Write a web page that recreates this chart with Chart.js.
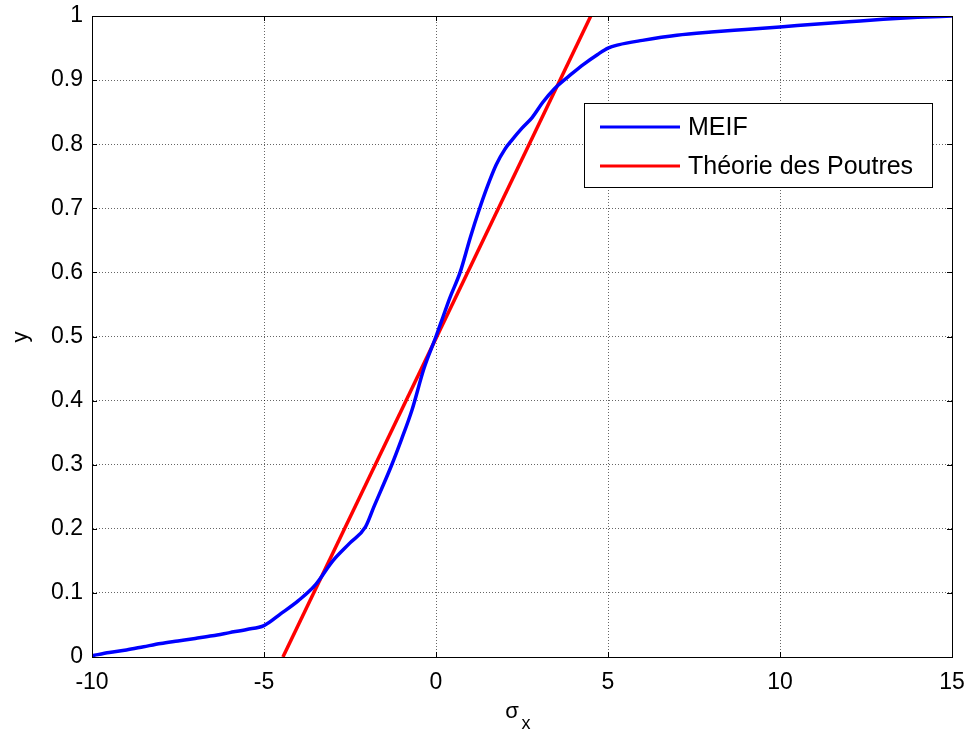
<!DOCTYPE html>
<html>
<head>
<meta charset="utf-8">
<script src="https://cdn.jsdelivr.net/npm/chart.js@4/dist/chart.umd.min.js"></script>
<style>
html,body{margin:0;padding:0;background:#fff;}
#wrap{width:968px;height:736px;position:relative;}
</style>
</head>
<body>
<div id="wrap"><canvas id="c" width="968" height="736"></canvas></div>
<script>
// ---- data ----
const meifX = [-10, -9.5, -9, -8.5, -8, -7.5, -7, -6.5, -6, -5.5, -5, -4.5, -4, -3.5, -3, -2.5, -2.05, -1.8, -1.6, -1.3, -1.0, -0.7, -0.35, 0, 0.2, 0.4, 0.7, 1.0, 1.25, 1.5, 1.75, 2.0, 2.2, 2.5, 2.8, 3.1, 3.45, 3.95, 4.3, 4.7, 5.0, 5.3, 6, 7, 8, 9, 10, 11, 12, 13, 14, 15];
const meifY = [0.002, 0.007, 0.011, 0.016, 0.021, 0.025, 0.029, 0.033, 0.038, 0.043, 0.049, 0.068, 0.088, 0.113, 0.15, 0.178, 0.203, 0.235, 0.26, 0.298, 0.34, 0.385, 0.45, 0.5, 0.53, 0.56, 0.6, 0.655, 0.697, 0.735, 0.768, 0.792, 0.806, 0.825, 0.842, 0.865, 0.887, 0.91, 0.925, 0.94, 0.95, 0.955, 0.962, 0.970, 0.975, 0.979, 0.983, 0.987, 0.991, 0.995, 0.998, 1.0];
const poutresX = [-4.45, 4.5];
const poutresY = [0, 1];
const seriesNames = ['MEIF', 'Théorie des Poutres'];
const seriesColors = ['#0000ff', '#ff0000'];
const xTicks = [-10, -5, 0, 5, 10, 15];
const yTicks = [0, 0.1, 0.2, 0.3, 0.4, 0.5, 0.6, 0.7, 0.8, 0.9, 1];
const xTitle = 'σ';
const xTitleSub = 'x';
const yTitle = 'y';

const FONT = '"Liberation Sans", Arial, sans-serif';
const zip = (xs, ys) => xs.map((x, i) => ({x: x, y: ys[i]}));

const framePlugin = {
  id: 'frame',
  afterDraw(chart) {
    const ctx = chart.ctx;
    const a = chart.chartArea;
    const xs = chart.scales.x, ys = chart.scales.y;
    ctx.save();
    // frame
    ctx.strokeStyle = '#000';
    ctx.lineWidth = 1;
    ctx.setLineDash([]);
    ctx.strokeRect(Math.round(a.left) + 0.5, Math.round(a.top) + 0.5, Math.round(a.right - a.left), Math.round(a.bottom - a.top));
    // inward ticks
    const L = 5;
    ctx.beginPath();
    xTicks.forEach(v => {
      const px = Math.round(xs.getPixelForValue(v)) + 0.5;
      ctx.moveTo(px, a.bottom); ctx.lineTo(px, a.bottom - L);
      ctx.moveTo(px, a.top); ctx.lineTo(px, a.top + L);
    });
    yTicks.forEach(v => {
      const py = Math.round(ys.getPixelForValue(v)) + 0.5;
      ctx.moveTo(a.left, py); ctx.lineTo(a.left + L, py);
      ctx.moveTo(a.right, py); ctx.lineTo(a.right - L, py);
    });
    ctx.stroke();
    // legend
    const lx = 584, ly = 103, lw = 348, lh = 84;
    ctx.fillStyle = '#fff';
    ctx.fillRect(lx, ly, lw, lh);
    ctx.strokeRect(lx + 0.5, ly + 0.5, lw, lh);
    ctx.font = '25px ' + FONT;
    ctx.textBaseline = 'middle';
    ctx.textAlign = 'left';
    const rows = [127, 166];
    chart.data.datasets.forEach((ds, i) => {
      ctx.strokeStyle = ds.borderColor;
      ctx.lineWidth = 3;
      ctx.beginPath();
      ctx.moveTo(600, rows[i]); ctx.lineTo(680, rows[i]);
      ctx.stroke();
      ctx.fillStyle = '#000';
      ctx.fillText(ds.label, 688, rows[i] + 1);
    });
    // axis titles
    ctx.fillStyle = '#000';
    ctx.font = '22px ' + FONT;
    ctx.textAlign = 'center';
    ctx.textBaseline = 'alphabetic';
    ctx.fillText(xTitle, 512, 718);
    ctx.font = '18px ' + FONT;
    ctx.fillText(xTitleSub, 526, 729);
    ctx.save();
    ctx.translate(27, 337);
    ctx.rotate(-Math.PI / 2);
    ctx.font = '22px ' + FONT;
    ctx.textBaseline = 'alphabetic';
    ctx.fillText(yTitle, 0, 0);
    ctx.restore();
    ctx.restore();
  }
};

const gridCfg = {
  color: 'rgba(0,0,0,0.6)',
  lineWidth: 1,
  drawTicks: false
};

new Chart(document.getElementById('c'), {
  type: 'scatter',
  data: {
    datasets: [
      {label: seriesNames[0], data: zip(meifX, meifY), showLine: true, borderColor: seriesColors[0], backgroundColor: seriesColors[0], borderWidth: 3.5, pointRadius: 0, cubicInterpolationMode: 'monotone'},
      {label: seriesNames[1], data: zip(poutresX, poutresY), showLine: true, borderColor: seriesColors[1], backgroundColor: seriesColors[1], borderWidth: 3.5, pointRadius: 0}
    ]
  },
  options: {
    responsive: false,
    animation: false,
    layout: {padding: {left: 0, right: 16, top: 16, bottom: 0}},
    plugins: {legend: {display: false}, tooltip: {enabled: false}},
    scales: {
      x: {
        type: 'linear', min: -10, max: 15,
        afterBuildTicks: s => { s.ticks = xTicks.map(v => ({value: v})); },
        afterFit: s => { s.height = 79; s.paddingLeft = 0; s.paddingRight = 0; },
        grid: Object.assign({}, gridCfg),
        border: {display: true, color: '#000', dash: [1, 2]},
        ticks: {color: '#000', font: {family: FONT, size: 23}, padding: 12, maxRotation: 0,
          callback: v => String(v)}
      },
      y: {
        type: 'linear', min: 0, max: 1,
        afterBuildTicks: s => { s.ticks = yTicks.map(v => ({value: v})); },
        afterFit: s => { s.width = 92; s.paddingTop = 0; s.paddingBottom = 0; },
        grid: Object.assign({}, gridCfg),
        border: {display: true, color: '#000', dash: [1, 2]},
        ticks: {color: '#000', font: {family: FONT, size: 23}, padding: 9,
          callback: v => String(Number(v.toFixed(1)))}
      }
    }
  },
  plugins: [framePlugin]
});
</script>
</body>
</html>
